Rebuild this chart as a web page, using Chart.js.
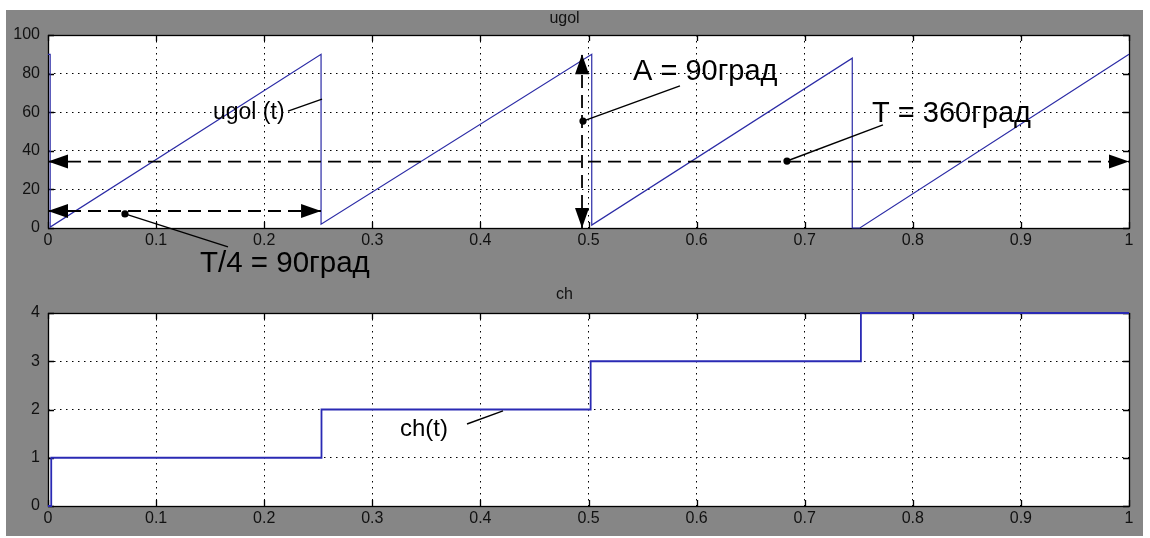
<!DOCTYPE html>
<html>
<head>
<meta charset="utf-8">
<script src="https://cdn.jsdelivr.net/npm/chart.js@4/dist/chart.umd.min.js"></script>
<style>
  html, body { margin: 0; padding: 0; background: #ffffff; }
  #stage { position: relative; width: 1150px; height: 538px; overflow: hidden; }
  #panel { position: absolute; left: 6px; top: 10px; width: 1137px; height: 526px; background: #868686; }
  canvas { position: absolute; left: 0; }
  #cUgol { top: 0; }
  #cCh { top: 260px; }
</style>
</head>
<body>
<div id="stage">
  <div id="panel"></div>
  <canvas id="cCh" width="1150" height="278"></canvas>
  <canvas id="cUgol" width="1150" height="290"></canvas>
</div>
<script>
// Simulation time, s
const timeTicks = [0, 0.1, 0.2, 0.3, 0.4, 0.5, 0.6, 0.7, 0.8, 0.9, 1];

// Angle signal ugol(t): sawtooth, resets each quarter period
const ugolTime  = [0, 0.002, 0.002, 0.2526, 0.2526, 0.503, 0.503, 0.744, 0.744, 0.751, 1];
const ugolValue = [90, 90, 0.5, 90, 2, 90, 1.5, 88, 0, 0, 90];
const ugolTicks = [0, 20, 40, 60, 80, 100];

// Quarter counter ch(t): step changes (value reached at each time)
const chTime  = [0, 0.003, 0.253, 0.502, 0.752, 1];
const chValue = [0, 1, 2, 3, 4, 4];
const chTicks = [0, 1, 2, 3, 4];

// Dimension arrows on the ugol plot: [t1, v1, t2, v2]
const ugolArrows = [
  [0, 34.4, 1, 34.4],
  [0, 8.8, 0.2526, 8.8],
  [0.494, 0, 0.494, 90]
];
// Callout labels: text, anchor (t, v), font size, leader line [t1, v1, t2, v2], dot at leader start
const ugolLabels = [
  { text: 'ugol (t)',      t: 0.1526, v: 56.5,  size: 23, line: [0.2220, 60.6, 0.2535, 66.8], dot: false },
  { text: 'A = 90град',    t: 0.5412, v: 76.7,  size: 29, line: [0.4949, 55.4, 0.5846, 73.6], dot: true },
  { text: 'T = 360град',   t: 0.7623, v: 54.9,  size: 29, line: [0.6836, 34.7, 0.7724, 53.4], dot: true },
  { text: 'T/4 = 90град',  t: 0.1406, v: -22.8, size: 29.5, line: [0.0712, 7.3, 0.1665, -9.8],  dot: true }
];
const chLabels = [
  { text: 'ch(t)', t: 0.3256, v: 1.451, size: 24, line: [0.3876, 1.70, 0.4209, 1.97], dot: false }
];

const FONT_FAMILY = '"Liberation Sans", Arial, sans-serif';
const TICK_FONT = { family: FONT_FAMILY, size: 16 };
const TEXT_COLOR = '#111111';

function fmtTime(v) {
  const r = Math.round(v * 10) / 10;
  return (r === 0 || r === 1) ? String(r) : r.toFixed(1);
}

// White plot area, solid frame and inward tick marks on all four sides
const plotFrame = {
  id: 'plotFrame',
  beforeDraw(chart) {
    const a = chart.chartArea, ctx = chart.ctx;
    ctx.save();
    ctx.fillStyle = '#ffffff';
    ctx.fillRect(a.left, a.top, a.right - a.left, a.bottom - a.top);
    ctx.restore();
  },
  beforeDatasetsDraw(chart) {
    const a = chart.chartArea, ctx = chart.ctx;
    const xs = chart.scales.x, ys = chart.scales.y;
    const L = 6;
    ctx.save();
    ctx.strokeStyle = '#000000';
    ctx.lineWidth = 1.3;
    ctx.strokeRect(Math.round(a.left) + 0.5, Math.round(a.top) + 0.5,
                   Math.round(a.right - a.left), Math.round(a.bottom - a.top));
    ctx.beginPath();
    xs.ticks.forEach(tk => {
      const px = Math.round(xs.getPixelForValue(tk.value)) + 0.5;
      ctx.moveTo(px, a.bottom); ctx.lineTo(px, a.bottom - L);
      ctx.moveTo(px, a.top);    ctx.lineTo(px, a.top + L);
    });
    ys.ticks.forEach(tk => {
      const py = Math.round(ys.getPixelForValue(tk.value)) + 0.5;
      ctx.moveTo(a.left, py);  ctx.lineTo(a.left + L, py);
      ctx.moveTo(a.right, py); ctx.lineTo(a.right - L, py);
    });
    ctx.stroke();
    ctx.restore();
  }
};

function arrowHead(ctx, tipX, tipY, dx, dy, len, half) {
  const n = Math.hypot(dx, dy); const ux = dx / n, uy = dy / n;
  const bx = tipX - ux * len, by = tipY - uy * len;
  ctx.beginPath();
  ctx.moveTo(tipX, tipY);
  ctx.lineTo(bx - uy * half, by + ux * half);
  ctx.lineTo(bx + uy * half, by - ux * half);
  ctx.closePath();
  ctx.fill();
}

// Dimension arrows and callout labels, placed in data coordinates
function calloutPlugin(arrows, labels) {
  return {
    id: 'callouts',
    afterDatasetsDraw(chart) {
      const ctx = chart.ctx, xs = chart.scales.x, ys = chart.scales.y;
      const X = t => xs.getPixelForValue(t), Y = v => ys.getPixelForValue(v);
      ctx.save();
      ctx.strokeStyle = '#000000';
      ctx.fillStyle = '#000000';
      arrows.forEach(([t1, v1, t2, v2]) => {
        const x1 = X(t1), y1 = Y(v1), x2 = X(t2), y2 = Y(v2);
        ctx.lineWidth = 1.8;
        ctx.setLineDash([13, 7]);
        ctx.beginPath(); ctx.moveTo(x1, y1); ctx.lineTo(x2, y2); ctx.stroke();
        ctx.setLineDash([]);
        arrowHead(ctx, x1, y1, x1 - x2, y1 - y2, 20, 7);
        arrowHead(ctx, x2, y2, x2 - x1, y2 - y1, 20, 7);
      });
      labels.forEach(lb => {
        const [t1, v1, t2, v2] = lb.line;
        ctx.lineWidth = 1.4;
        ctx.beginPath(); ctx.moveTo(X(t1), Y(v1)); ctx.lineTo(X(t2), Y(v2)); ctx.stroke();
        if (lb.dot) {
          ctx.beginPath(); ctx.arc(X(t1), Y(v1), 3.6, 0, Math.PI * 2); ctx.fill();
        }
        ctx.font = lb.size + 'px ' + FONT_FAMILY;
        ctx.textAlign = 'left';
        ctx.textBaseline = 'alphabetic';
        ctx.fillText(lb.text, X(lb.t), Y(lb.v));
      });
      ctx.restore();
    }
  };
}

function makeChart(canvasId, cfg) {
  return new Chart(document.getElementById(canvasId), {
    type: 'line',
    data: {
      datasets: [{
        data: cfg.times.map((t, i) => ({ x: t, y: cfg.values[i] })),
        borderColor: cfg.color,
        borderWidth: cfg.width,
        pointRadius: 0,
        tension: 0,
        stepped: cfg.stepped,
        fill: false,
        clip: 3
      }]
    },
    options: {
      responsive: false,
      devicePixelRatio: 1,
      animation: false,
      events: [],
      layout: { padding: { left: 0, right: 21, top: 0, bottom: 0 } },
      plugins: {
        legend: { display: false },
        tooltip: { enabled: false },
        title: {
          display: true,
          text: cfg.title,
          color: TEXT_COLOR,
          font: { family: FONT_FAMILY, size: 16, weight: 'normal', lineHeight: 1.2 },
          padding: cfg.titlePad
        }
      },
      scales: {
        x: {
          type: 'linear',
          min: 0, max: 1,
          afterBuildTicks: s => { s.ticks = timeTicks.map(v => ({ value: v })); },
          afterFit: s => { s.height = cfg.xAxisHeight; },
          ticks: { color: TEXT_COLOR, font: TICK_FONT, padding: 3, maxRotation: 0, autoSkip: false, callback: v => fmtTime(v) },
          grid: { color: '#000000', lineWidth: 1, drawTicks: false },
          border: { display: false, dash: [1.5, 4.5] }
        },
        y: {
          type: 'linear',
          min: cfg.yTicks[0], max: cfg.yTicks[cfg.yTicks.length - 1],
          afterBuildTicks: s => { s.ticks = cfg.yTicks.map(v => ({ value: v })); },
          afterFit: s => { s.width = 48; },
          ticks: { color: TEXT_COLOR, font: TICK_FONT, padding: 8, callback: v => String(v) },
          grid: { color: '#000000', lineWidth: 1, drawTicks: false },
          border: { display: false, dash: [1.5, 4.5] }
        }
      }
    },
    plugins: [plotFrame, calloutPlugin(cfg.arrows, cfg.labels)]
  });
}

makeChart('cUgol', {
  title: 'ugol',
  titlePad: { top: 9.4, bottom: 6.4 },
  xAxisHeight: 62,
  times: ugolTime, values: ugolValue, yTicks: ugolTicks,
  color: '#2b2ba6', width: 1.2, stepped: false,
  arrows: ugolArrows, labels: ugolLabels
});

makeChart('cCh', {
  title: 'ch',
  titlePad: { top: 25, bottom: 8.8 },
  xAxisHeight: 32,
  times: chTime, values: chValue, yTicks: chTicks,
  color: '#2a2ab4', width: 1.8, stepped: true,
  arrows: [], labels: chLabels
});
</script>
</body>
</html>
